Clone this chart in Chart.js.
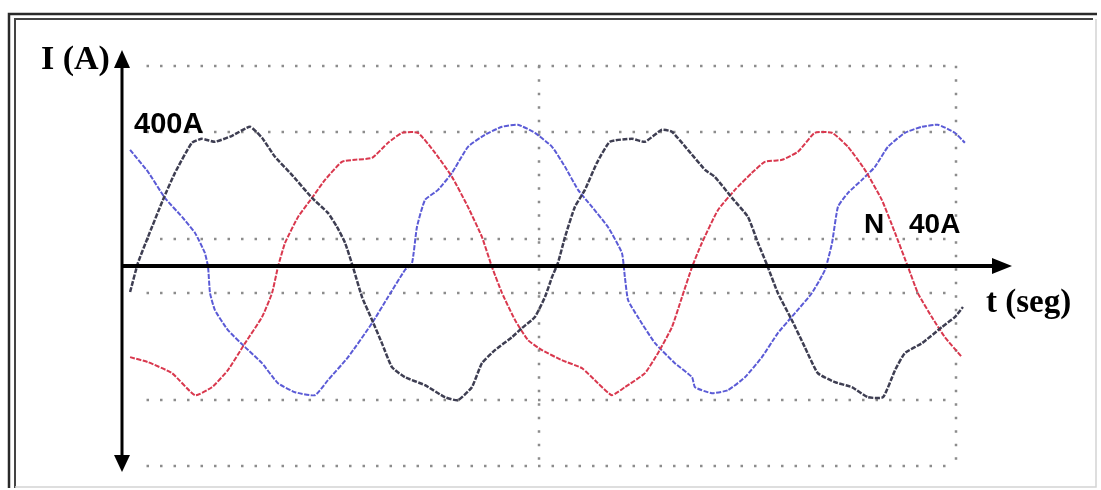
<!DOCTYPE html>
<html>
<head>
<meta charset="utf-8">
<script src="https://cdn.jsdelivr.net/npm/chart.js@4.4.1/dist/chart.umd.min.js"></script>
<style>
  html, body { margin: 0; padding: 0; background: #fff; }
  #oscilo { display: block; }
</style>
</head>
<body>
<canvas id="oscilo" width="1101" height="490"></canvas>
<script>
const faseR_t = [0.33,0.65,1.06,1.67,2.16,2.85,3.26,3.79,4.49,5.22,5.71,6.24,6.93,7.75,8.40,8.77,9.10,9.42,9.79,10.20,10.60,11.01,11.54,12.36,13.17,13.70,14.27,14.68,15.21,15.91,16.31,16.84,17.25,17.54,17.78,18.07,18.47,18.88,19.37,19.90,20.80,21.33,22.02,22.43,23.08,23.78,24.18,24.88,25.53,25.94,26.31,26.75,27.32,27.85,28.38,29.08,29.77,30.42,31.04,31.53,31.93,32.63,33.44,33.97,34.30];
const faseR_i = [-78,9,87,198,279,369,381,372,390,417,384,327,273,204,159,117,69,-3,-93,-162,-231,-303,-333,-357,-393,-402,-363,-291,-252,-213,-186,-153,-93,-33,9,87,177,228,309,372,381,372,408,402,348,288,267,204,147,69,3,-81,-162,-243,-321,-348,-363,-393,-393,-312,-261,-231,-183,-153,-123];

const faseS_t = [0.33,1.06,2.04,2.98,3.67,4.32,5.02,5.71,6.12,6.36,6.65,7.18,7.75,8.28,8.97,9.50,10.20,10.85,11.42,12.07,12.77,13.46,14.11,14.68,15.09,15.50,16.03,16.56,17.13,17.94,18.76,19.41,19.98,20.51,21.33,21.86,22.43,22.84,23.25,23.65,24.31,25.00,25.69,26.22,26.92,27.57,28.26,28.96,29.61,30.30,30.99,31.53,32.06,32.46,33.03,33.56,34.26];
const faseS_i = [-273,-288,-321,-387,-363,-312,-231,-153,-81,-3,69,147,204,258,312,318,324,369,399,399,339,267,177,87,-3,-81,-162,-222,-252,-282,-306,-351,-387,-363,-321,-261,-183,-93,-3,69,168,228,279,312,318,342,399,399,357,288,198,99,-3,-81,-153,-213,-273];

const faseT_t = [0.33,1.06,1.75,2.45,2.98,3.38,3.51,3.59,3.79,4.32,5.02,5.71,6.36,7.06,7.87,8.40,9.22,10.20,10.85,11.54,11.83,12.03,12.36,12.89,13.46,14.11,14.80,15.50,16.15,16.84,17.54,18.07,18.60,19.17,19.82,20.39,20.51,20.64,21.04,21.74,22.55,23.25,23.37,24.06,24.71,25.41,26.10,26.75,27.45,28.14,28.67,28.96,29.20,29.61,30.18,30.71,31.24,31.93,32.63,33.28,33.97,34.38];
const faseT_i = [348,282,204,147,99,39,-3,-81,-132,-192,-243,-291,-351,-378,-387,-342,-273,-171,-93,-12,9,117,198,228,279,357,393,417,423,399,357,297,228,177,117,39,-33,-102,-153,-231,-291,-333,-363,-381,-372,-333,-273,-201,-141,-81,-12,69,177,219,258,297,357,399,417,423,399,369];

// REJILLA PUNTEADA
const rejillaI = [600, 400, 80, -80, -400, -600];
const rejillaT = [17, 34];
const rejillaDesde = 1;

// TEXTOS
const tituloY = "I (A)";
const tituloX = "t (seg)";
const escalaFases = "400A";
const escalaNeutro = ["N", "40A"];

function puntos(ts, is){
	return ts.map((t, k) => ({ x: t, y: is[k] }));
}

// PLUGIN: marco, rejilla, ejes con flechas y textos
const osciloPlugin = {
	id: 'osciloPlugin',
	beforeDraw(chart){
		const c = chart.ctx;
		c.save();
		c.fillStyle = '#fff';
		c.fillRect(0, 0, chart.width, chart.height);
		// marco: arriba e izquierda doble y oscuro, abajo y derecha tenue
		c.strokeStyle = '#2a2a2a';
		c.lineWidth = 2.5;
		c.beginPath();
		c.moveTo(9, 488); c.lineTo(9, 14); c.lineTo(1097, 14);
		c.stroke();
		c.lineWidth = 2;
		c.strokeStyle = '#444';
		c.beginPath();
		c.moveTo(15, 488); c.lineTo(15, 19); c.lineTo(1093, 19);
		c.stroke();
		c.strokeStyle = '#d4d4d4';
		c.lineWidth = 1.5;
		c.beginPath();
		c.moveTo(15, 487); c.lineTo(1096, 487); c.lineTo(1096, 19);
		c.stroke();
		c.restore();
	},
	beforeDatasetsDraw(chart){
		const c = chart.ctx, xs = chart.scales.x, ys = chart.scales.y;
		c.save();
		c.strokeStyle = '#8c8c8c';
		c.lineWidth = 2.5;
		c.setLineDash([2.5, 11]);
		rejillaI.forEach(v => {
			const y = Math.round(ys.getPixelForValue(v));
			c.beginPath();
			c.moveTo(xs.getPixelForValue(rejillaDesde), y);
			c.lineTo(xs.getPixelForValue(rejillaT[rejillaT.length-1]), y);
			c.stroke();
		});
		rejillaT.forEach(t => {
			const x = Math.round(xs.getPixelForValue(t));
			c.beginPath();
			c.moveTo(x, ys.getPixelForValue(rejillaI[0]));
			c.lineTo(x, ys.getPixelForValue(rejillaI[rejillaI.length-1]));
			c.stroke();
		});
		c.restore();
	},
	afterDatasetsDraw(chart){
		const c = chart.ctx, xs = chart.scales.x, ys = chart.scales.y, area = chart.chartArea;
		const x0 = xs.getPixelForValue(0), y0 = ys.getPixelForValue(0);
		c.save();
		c.fillStyle = '#000';
		c.strokeStyle = '#000';
		// eje vertical
		c.lineWidth = 3;
		c.beginPath();
		c.moveTo(x0, area.top + 4);
		c.lineTo(x0, area.bottom - 14);
		c.stroke();
		c.beginPath();
		c.moveTo(x0, area.top - 9);
		c.lineTo(x0 - 8, area.top + 9);
		c.lineTo(x0 + 8, area.top + 9);
		c.closePath();
		c.fill();
		c.beginPath();
		c.moveTo(x0, area.bottom - 1);
		c.lineTo(x0 - 8, area.bottom - 18);
		c.lineTo(x0 + 8, area.bottom - 18);
		c.closePath();
		c.fill();
		// eje horizontal
		c.lineWidth = 4;
		c.beginPath();
		c.moveTo(x0, y0);
		c.lineTo(area.right - 14, y0);
		c.stroke();
		c.beginPath();
		c.moveTo(area.right, y0);
		c.lineTo(area.right - 20, y0 - 8);
		c.lineTo(area.right - 20, y0 + 8);
		c.closePath();
		c.fill();
		// textos
		c.textBaseline = 'alphabetic';
		c.font = 'bold 34px "Liberation Serif", serif';
		c.fillText(tituloY, 41, 69);
		c.font = 'bold 33px "Liberation Serif", serif';
		c.fillText(tituloX, 986, 312);
		c.font = 'bold 29px "Liberation Sans", sans-serif';
		c.fillText(escalaFases, 134, 133);
		c.font = 'bold 28px "Liberation Sans", sans-serif';
		c.fillText(escalaNeutro[0], 864, 233);
		c.fillText(escalaNeutro[1], 909, 233);
		c.restore();
	}
};

const ctx = document.getElementById('oscilo').getContext('2d');

const my_chart = new Chart(ctx, {
	type: 'line',
	data: {
		datasets: [{
			label: 'Fase R',
			data: puntos(faseR_t, faseR_i),
			borderColor: '#3e3e52',
			borderWidth: 2.5,
			borderDash: [5, 1.5]
		},{
			label: 'Fase S',
			data: puntos(faseS_t, faseS_i),
			borderColor: '#d9384e',
			borderWidth: 2,
			borderDash: [5, 1.5]
		},{
			label: 'Fase T',
			data: puntos(faseT_t, faseT_i),
			borderColor: '#5b5bd6',
			borderWidth: 2,
			borderDash: [5, 1.5]
		}]
	},
	options: {
		responsive: false,
		animation: false,
		events: [],
		elements: {
			point: { radius: 0 },
			line: { tension: 0.15, fill: false }
		},
		layout: { padding: { left: 122, right: 89, top: 59, bottom: 17 } },
		scales: {
			x: { type: 'linear', min: 0, max: 36.3, display: false },
			y: { min: -620, max: 620, display: false }
		},
		plugins: {
			legend: { display: false },
			tooltip: { enabled: false }
		}
	},
	plugins: [osciloPlugin]
});
</script>
</body>
</html>
